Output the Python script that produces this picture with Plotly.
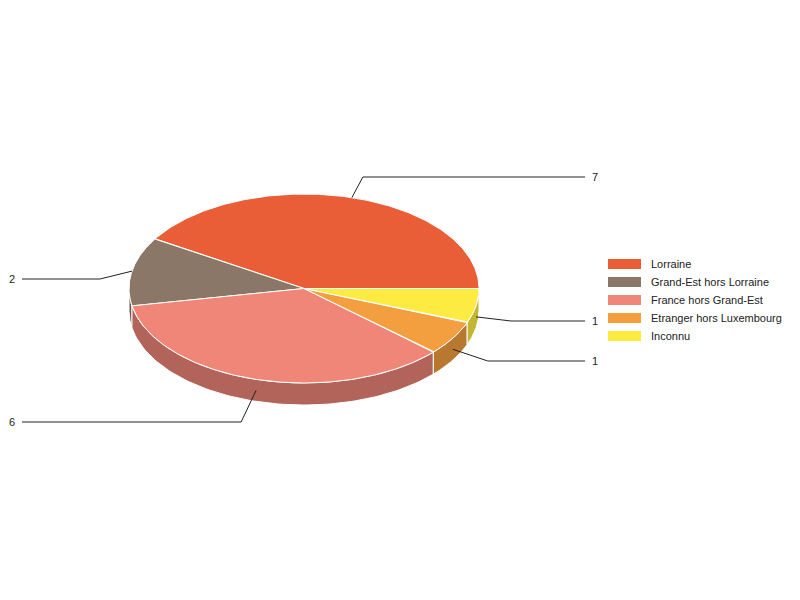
import numpy as np
import plotly.graph_objects as go

labels = ["Lorraine", "Grand-Est hors Lorraine", "France hors Grand-Est",
          "Etranger hors Luxembourg", "Inconnu"]
values = [7, 2, 6, 1, 1]
colors = ["#e95e37", "#8a7767", "#ef8677", "#f39f40", "#feeb41"]
side_colors = ["#a84428", "#695b4f", "#b3645a", "#b97830", "#c4b532"]

# pie geometry (pixels, y pointing down)
cx, cy = 304, 288.5
rx, ry = 175, 94.5
depth = 22

# leader label layout
label_y = [177, 279, 422, 361, 321]
elbow_dx = [11, -32, -15, 35, 35]
line_end_left, line_end_right = 22, 585

# page body has an 8px margin, shift the view to compensate
off = 8


def pt(a, dy=0):
    return cx + rx * np.cos(a), cy - ry * np.sin(a) + dy


fig = go.Figure()

total = sum(values)
fracs = np.array(values) / total
ends = np.cumsum(fracs) * 2 * np.pi
starts = ends - fracs * 2 * np.pi

# side walls (front half only: angles pi..2pi)
for i in range(len(values)):
    a0 = max(starts[i], np.pi)
    a1 = min(ends[i], 2 * np.pi)
    if a1 <= a0:
        continue
    t = np.linspace(a0, a1, 80)
    xt, yt = pt(t)
    xb, yb = pt(t[::-1], depth)
    fig.add_trace(go.Scatter(
        x=np.concatenate([xt, xb, xt[:1]]),
        y=np.concatenate([yt, yb, yt[:1]]),
        fill="toself", fillcolor=side_colors[i], mode="lines",
        line=dict(color="white", width=1), hoverinfo="skip", showlegend=False))

# top slices
for i in range(len(values)):
    t = np.linspace(starts[i], ends[i], 200)
    xt, yt = pt(t)
    fig.add_trace(go.Scatter(
        x=np.concatenate([[cx], xt, [cx]]),
        y=np.concatenate([[cy], yt, [cy]]),
        fill="toself", fillcolor=colors[i], mode="lines",
        line=dict(color="white", width=1), name=labels[i],
        hoverinfo="name", showlegend=False))

# leader lines and value labels
for i in range(len(values)):
    mid = (starts[i] + ends[i]) / 2
    dy = depth / 2 if np.sin(mid) < 0 else 0
    x0, y0 = pt(mid, dy)
    right = np.cos(mid) > 0
    xe = x0 + elbow_dx[i]
    xend = line_end_right if right else line_end_left
    fig.add_trace(go.Scatter(
        x=[x0, xe, xend], y=[y0, label_y[i], label_y[i]], mode="lines",
        line=dict(color="#222222", width=1), hoverinfo="skip", showlegend=False))
    fig.add_annotation(
        x=xend + (5 if right else -5), y=label_y[i], text=str(values[i]),
        showarrow=False, xanchor="left" if right else "right",
        font=dict(size=11, color="#222222"))

# legend
leg_x, leg_y, row_h = 608, 264, 18
for i, lab in enumerate(labels):
    yy = leg_y + i * row_h
    fig.add_shape(type="rect", x0=leg_x, x1=leg_x + 33, y0=yy - 5, y1=yy + 5,
                  fillcolor=colors[i], line=dict(width=0), layer="above")
    fig.add_annotation(x=leg_x + 41, y=yy, text=lab, showarrow=False,
                       xanchor="left", font=dict(size=11, color="#222222"))

fig.update_layout(
    width=800, height=600,
    margin=dict(l=0, r=0, t=0, b=0),
    paper_bgcolor="white", plot_bgcolor="white",
    font=dict(family="Liberation Sans, Arial, sans-serif", color="#222222"),
    xaxis=dict(range=[off, 800 + off], visible=False, fixedrange=True),
    yaxis=dict(range=[600 + off, off], visible=False, fixedrange=True),
    showlegend=False,
)

fig.write_html("out.html")
